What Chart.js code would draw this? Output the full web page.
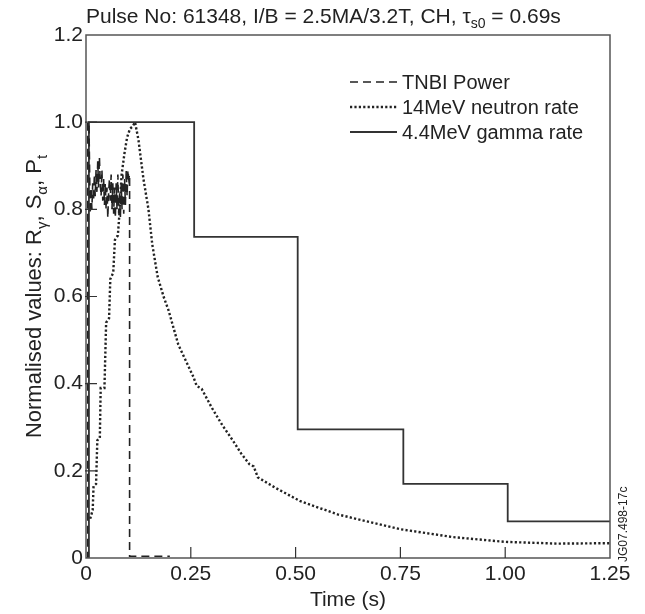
<!DOCTYPE html>
<html>
<head>
<meta charset="utf-8">
<script src="https://cdn.jsdelivr.net/npm/chart.js@4.4.0/dist/chart.umd.min.js"></script>
<style>
  body { margin: 0; background: #fff; }
</style>
</head>
<body>
<canvas id="myChart" width="645" height="614"></canvas>
<script>
const FONT = "'Liberation Sans', Arial, Helvetica, sans-serif";
const INK = "#222";

// TNBI power, normalised
const tnbiTimes = [0, 0.004, 0.004, 0.007, 0.010, 0.012, 0.014, 0.016, 0.018, 0.020, 0.022, 0.024,
  0.026, 0.028, 0.030, 0.032, 0.034, 0.036, 0.038, 0.040, 0.042, 0.044, 0.046, 0.048, 0.050,
  0.052, 0.054, 0.056, 0.058, 0.060, 0.062, 0.064, 0.066, 0.068, 0.070, 0.072, 0.074, 0.076,
  0.078, 0.080, 0.082, 0.084, 0.086, 0.088, 0.090, 0.092, 0.094, 0.096, 0.098, 0.100, 0.102,
  0.104, 0.104, 0.200];
const tnbiValues = [0, 0, 1.0, 1.0, 0.79, 0.85, 0.80, 0.86, 0.82, 0.88, 0.83, 0.89,
  0.84, 0.91, 0.85, 0.92, 0.86, 0.83, 0.89, 0.82, 0.87, 0.81, 0.86, 0.80, 0.85,
  0.78, 0.84, 0.87, 0.82, 0.88, 0.80, 0.86, 0.79, 0.85, 0.78, 0.86, 0.80, 0.88,
  0.79, 0.84, 0.78, 0.86, 0.80, 0.88, 0.79, 0.87, 0.81, 0.89, 0.83, 0.89, 0.87,
  0.88, 0.004, 0.004];

// 14MeV neutron rate, normalised
const neutronTimes = [0.010, 0.013, 0.016, 0.018, 0.024, 0.027, 0.033, 0.035, 0.044, 0.048,
  0.055, 0.058, 0.065, 0.069, 0.076, 0.079, 0.085, 0.092, 0.098, 0.105, 0.111, 0.117,
  0.125, 0.137, 0.149, 0.158, 0.171, 0.185, 0.197, 0.220, 0.256, 0.264, 0.276, 0.300,
  0.325, 0.350, 0.370, 0.390, 0.400, 0.410, 0.450, 0.510, 0.600, 0.750, 0.875, 1.000,
  1.125, 1.250];
const neutronValues = [0.09, 0.10, 0.11, 0.165, 0.17, 0.27, 0.275, 0.39, 0.39, 0.54,
  0.55, 0.64, 0.655, 0.73, 0.74, 0.78, 0.88, 0.93, 0.965, 0.985, 0.99, 1.0,
  0.96, 0.87, 0.80, 0.72, 0.645, 0.60, 0.568, 0.49, 0.416, 0.395, 0.388, 0.345,
  0.305, 0.27, 0.24, 0.215, 0.21, 0.185, 0.162, 0.131, 0.10, 0.066, 0.048, 0.037,
  0.033, 0.034];

// 4.4MeV gamma rate, normalised (held constant over each interval)
const gammaTimes = [0.007, 0.007, 0.258, 0.505, 0.757, 1.006, 1.25];
const gammaValues = [0, 1.0, 0.737, 0.295, 0.17, 0.084, 0.084];

const xTicks = [0, 0.25, 0.5, 0.75, 1.0, 1.25];
const yTicks = [0, 0.2, 0.4, 0.6, 0.8, 1.0, 1.2];

const seriesLabels = ["TNBI Power", "14MeV neutron rate", "4.4MeV gamma rate"];

function toPoints(ts, vs) {
  return ts.map((t, i) => ({ x: t, y: vs[i] }));
}

// text with subscripts: parts = [[text, isSub], ...]
function richWidth(ctx, parts, size) {
  let w = 0;
  parts.forEach(([t, sub]) => {
    ctx.font = (sub ? Math.round(size * 0.68) : size) + "px " + FONT;
    w += ctx.measureText(t).width;
  });
  return w;
}
function drawRich(ctx, parts, x, y, size) {
  parts.forEach(([t, sub]) => {
    ctx.font = (sub ? Math.round(size * 0.68) : size) + "px " + FONT;
    ctx.fillText(t, x, sub ? y + size * 0.25 : y);
    x += ctx.measureText(t).width;
  });
}

const decorations = {
  id: "decorations",
  afterDraw(chart) {
    const { ctx, chartArea: a, scales } = chart;
    const x = scales.x, y = scales.y;
    ctx.save();

    // frame
    ctx.strokeStyle = "#555";
    ctx.lineWidth = 1.5;
    ctx.setLineDash([]);
    ctx.strokeRect(a.left, a.top, a.right - a.left, a.bottom - a.top);

    // inward tick marks
    ctx.strokeStyle = "#333";
    ctx.lineWidth = 1.2;
    ctx.beginPath();
    xTicks.slice(1, -1).forEach(v => {
      const px = x.getPixelForValue(v);
      ctx.moveTo(px, a.bottom);
      ctx.lineTo(px, a.bottom - 11);
    });
    yTicks.slice(1, -1).forEach(v => {
      const py = y.getPixelForValue(v);
      ctx.moveTo(a.left - 1, py);
      ctx.lineTo(a.left + 11, py);
    });
    ctx.stroke();

    ctx.fillStyle = INK;
    ctx.textBaseline = "alphabetic";
    ctx.textAlign = "left";

    // title
    drawRich(ctx, [["Pulse No: 61348, I/B = 2.5MA/3.2T, CH, \u03c4", false], ["s0", true], [" = 0.69s", false]],
      a.left, 23, 21);

    // x axis title
    ctx.font = "21px " + FONT;
    ctx.textAlign = "center";
    ctx.textBaseline = "middle";
    ctx.fillText("Time (s)", (a.left + a.right) / 2, 600);

    // y axis title
    const yParts = [["Normalised values: R", false], ["\u03b3", true], [", S", false], ["\u03b1", true],
      [", P", false], ["t", true]];
    ctx.save();
    ctx.translate(41, (a.top + a.bottom) / 2);
    ctx.rotate(-Math.PI / 2);
    ctx.textAlign = "left";
    ctx.textBaseline = "alphabetic";
    const yw = richWidth(ctx, yParts, 22);
    drawRich(ctx, yParts, -yw / 2, 0, 22);
    ctx.restore();

    // legend
    ctx.textAlign = "left";
    ctx.textBaseline = "middle";
    chart.data.datasets.forEach((ds, i) => {
      const ry = 82 + i * 25;
      ctx.strokeStyle = ds.borderColor;
      ctx.lineWidth = ds.borderWidth;
      ctx.setLineDash(ds.borderDash || []);
      ctx.beginPath();
      ctx.moveTo(350, ry);
      ctx.lineTo(397, ry);
      ctx.stroke();
      ctx.setLineDash([]);
      ctx.font = "20px " + FONT;
      ctx.fillText(ds.label, 402, ry + 1);
    });

    // figure id
    ctx.save();
    ctx.translate(627, 562);
    ctx.rotate(-Math.PI / 2);
    ctx.font = "12px " + FONT;
    ctx.textAlign = "left";
    ctx.textBaseline = "alphabetic";
    ctx.fillText("JG07.498-17c", 0, 0);
    ctx.restore();

    ctx.restore();
  }
};

const ctx = document.getElementById("myChart").getContext("2d");
const myChart = new Chart(ctx, {
  type: "scatter",
  data: {
    datasets: [
      {
        label: seriesLabels[0],
        data: toPoints(tnbiTimes, tnbiValues),
        showLine: true,
        borderColor: INK,
        borderWidth: 1.6,
        borderDash: [8, 5],
        pointRadius: 0,
        tension: 0,
      },
      {
        label: seriesLabels[1],
        data: toPoints(neutronTimes, neutronValues),
        showLine: true,
        borderColor: INK,
        borderWidth: 2.4,
        borderDash: [2.2, 2.2],
        pointRadius: 0,
        tension: 0,
      },
      {
        label: seriesLabels[2],
        data: toPoints(gammaTimes, gammaValues),
        showLine: true,
        stepped: true,
        borderColor: "#333",
        borderWidth: 1.8,
        pointRadius: 0,
        tension: 0,
      },
    ],
  },
  options: {
    responsive: false,
    animation: false,
    layout: { padding: { top: 35, right: 35, left: 0, bottom: 0 } },
    plugins: {
      legend: { display: false },
      tooltip: { enabled: false },
    },
    scales: {
      x: {
        type: "linear",
        min: 0,
        max: 1.25,
        afterBuildTicks: (s) => { s.ticks = xTicks.map(v => ({ value: v })); },
        afterFit: (s) => { s.height = 56; },
        grid: { display: false, drawTicks: false },
        border: { display: false },
        ticks: {
          color: INK,
          padding: 4,
          maxRotation: 0,
          font: { family: FONT, size: 21 },
          callback: (v) => (v === 0 ? "0" : Number(v).toFixed(2)),
        },
      },
      y: {
        type: "linear",
        min: 0,
        max: 1.2,
        afterBuildTicks: (s) => { s.ticks = yTicks.map(v => ({ value: v })); },
        afterFit: (s) => { s.width = 86; },
        grid: { display: false, drawTicks: false },
        border: { display: false },
        ticks: {
          color: INK,
          padding: 3,
          font: { family: FONT, size: 21 },
          callback: (v) => (v === 0 ? "0" : Number(v).toFixed(1)),
        },
      },
    },
  },
  plugins: [decorations],
});
</script>
</body>
</html>
